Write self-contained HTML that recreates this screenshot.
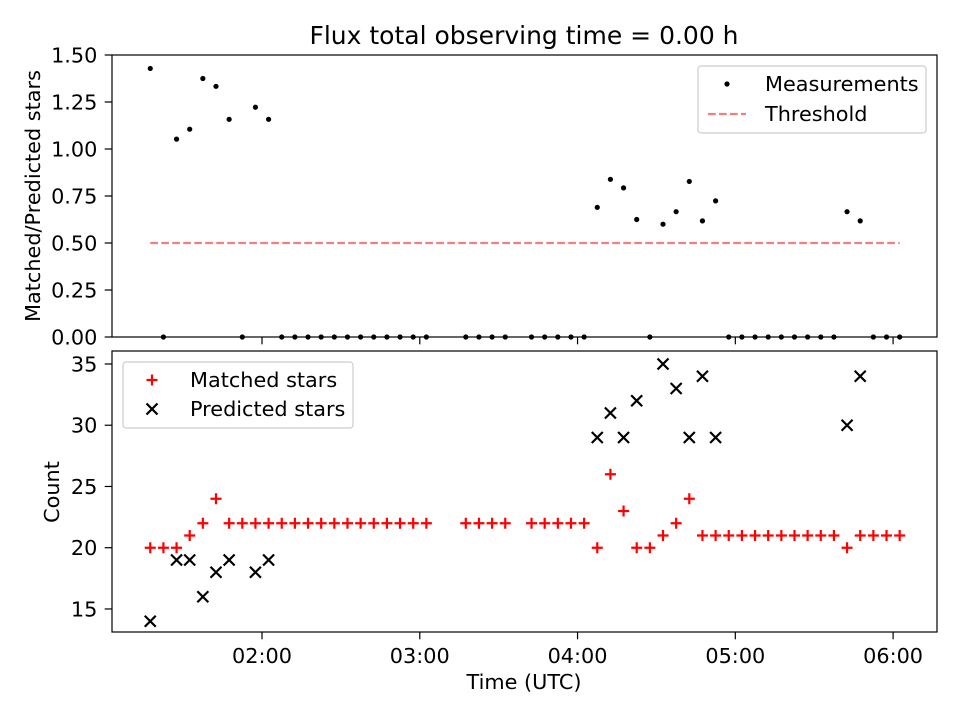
<!DOCTYPE html>
<html><head><meta charset="utf-8"><style>
body{margin:0;background:#fff}
svg{display:block;font-family:"DejaVu Sans","Liberation Sans",sans-serif}
</style></head><body>
<svg id="chart" width="960" height="720" viewBox="0 0 960 720">
<rect width="960" height="720" fill="#fff"/>
<text x="524" y="44" font-size="25" text-anchor="middle">Flux total observing time = 0.00 h</text>
<g id="topPanel"></g><g id="botPanel"></g>
<text transform="translate(40,196) rotate(-90)" font-size="20.8" text-anchor="middle">Matched/Predicted stars</text>
<text transform="translate(59,492) rotate(-90)" font-size="20.8" text-anchor="middle">Count</text>
<text x="524" y="689" font-size="20.8" text-anchor="middle">Time (UTC)</text>
</svg>
<script>
// index of 5-minute sample, start time 01:17.5
const startMinutes = 77.5;
const stepMinutes = 5;
const matchedIdx = [0,1,2,3,4,5,6,7,8,9,10,11,12,13,14,15,16,17,18,19,20,21,24,25,26,27,29,30,31,32,33,34,35,36,37,38,39,40,41,42,43,44,45,46,47,48,49,50,51,52,53,54,55,56,57];
const matchedVals = [20,20,20,21,22,24,22,22,22,22,22,22,22,22,22,22,22,22,22,22,22,22,22,22,22,22,22,22,22,22,22,20,26,23,20,20,21,22,24,21,21,21,21,21,21,21,21,21,21,21,20,21,21,21,21];
const predIdx = [0,2,3,4,5,6,8,9,34,35,36,37,39,40,41,42,43,53,54];
const predVals = [14,19,19,16,18,19,18,19,29,31,29,32,35,33,29,34,29,30,34];
const xTickLabels = ["02:00","03:00","04:00","05:00","06:00"];
const xTickMinutes = [120,180,240,300,360];
const topTicks = [0,0.25,0.5,0.75,1.0,1.25,1.5];
const botTicks = [15,20,25,30,35];
const threshold = 0.5;

const NS="http://www.w3.org/2000/svg";
const X0=112,X1=937, TM0=62.95, TM1=376.7;
const xs=m=>X0+(m-TM0)/(TM1-TM0)*(X1-X0);
const TY0=337,TY1=55; const ys1=v=>TY0-(v-0)/(1.5-0)*(TY0-TY1);
const BY0=632,BY1=351, BV0=13.12,BV1=36.06; const ys2=v=>BY0-(v-BV0)/(BV1-BV0)*(BY0-BY1);
const tm=i=>startMinutes+stepMinutes*i;
const FS=20.8, TL=7.3;
function mk(p,tag,a){const e=document.createElementNS(NS,tag);for(const k in a)e.setAttribute(k,a[k]);p.appendChild(e);return e;}
const topG=document.getElementById('topPanel'), botG=document.getElementById('botPanel');

const ratioX=[],ratioV=[];
matchedIdx.forEach((idx,k)=>{const p=predIdx.indexOf(idx);ratioX.push(idx);ratioV.push(p>=0?matchedVals[k]/predVals[p]:0);});

// top panel
topTicks.forEach(v=>{const y=ys1(v);
 mk(topG,'line',{x1:X0-TL,x2:X0,y1:y,y2:y,stroke:'#000','stroke-width':1.2});
 const t=mk(topG,'text',{x:X0-TL-7.3,y:y+7.5,'font-size':FS,'text-anchor':'end'});t.textContent=v.toFixed(2);
 
 });
xTickMinutes.forEach(m=>{const x=xs(m);mk(topG,'line',{x1:x,x2:x,y1:TY0,y2:TY0+TL,stroke:'#000','stroke-width':1.2});});
const thr=mk(topG,'line',{x1:xs(tm(0)),x2:xs(tm(57)),y1:ys1(threshold),y2:ys1(threshold),stroke:'#f08080','stroke-width':2.2,'stroke-dasharray':'7.7,3.3'});


ratioX.forEach((idx,k)=>{const c=mk(topG,'circle',{cx:xs(tm(idx)),cy:ys1(ratioV[k]),r:2.6,fill:'#000'});
 
 });
const fr1=mk(topG,'rect',{x:X0,y:TY1,width:X1-X0,height:TY0-TY1,fill:'none',stroke:'#000','stroke-width':1.2});


const lg1=mk(topG,'g',{});


mk(lg1,'rect',{x:698,y:66,width:228,height:67,rx:3,fill:'#fff',stroke:'#ccc','stroke-width':1.2});
mk(lg1,'circle',{cx:727,cy:84,r:2.6,fill:'#000'});
let t1=mk(lg1,'text',{x:765,y:91,'font-size':FS});t1.textContent='Measurements';


mk(lg1,'line',{x1:708,x2:746,y1:114,y2:114,stroke:'#f08080','stroke-width':2.2,'stroke-dasharray':'7.7,3.3'});
let t2=mk(lg1,'text',{x:765,y:121,'font-size':FS});t2.textContent='Threshold';



// bottom panel
botTicks.forEach(v=>{const y=ys2(v);
 mk(botG,'line',{x1:X0-TL,x2:X0,y1:y,y2:y,stroke:'#000','stroke-width':1.2});
 const t=mk(botG,'text',{x:X0-TL-7.3,y:y+7.5,'font-size':FS,'text-anchor':'end'});t.textContent=v;
 
 });
xTickMinutes.forEach((m,k)=>{const x=xs(m);mk(botG,'line',{x1:x,x2:x,y1:BY0,y2:BY0+TL,stroke:'#000','stroke-width':1.2});
 const t=mk(botG,'text',{x:x,y:663,'font-size':FS,'text-anchor':'middle'});t.textContent=xTickLabels[k];
 
 });
function plus(g,x,y){mk(g,'path',{d:`M${x-5.5},${y}H${x+5.5}M${x},${y-5.5}V${y+5.5}`,stroke:'#f00','stroke-width':2.2,fill:'none'});}
function cross(g,x,y){mk(g,'path',{d:`M${x-5.5},${y-5.5}L${x+5.5},${y+5.5}M${x-5.5},${y+5.5}L${x+5.5},${y-5.5}`,stroke:'#000','stroke-width':2.2,fill:'none'});}
matchedIdx.forEach((idx,k)=>{const g=mk(botG,'g',{});
 
 
 plus(g,xs(tm(idx)),ys2(matchedVals[k]));});
predIdx.forEach((idx,k)=>{const g=mk(botG,'g',{});
 
 
 cross(g,xs(tm(idx)),ys2(predVals[k]));});
const fr2=mk(botG,'rect',{x:X0,y:BY1,width:X1-X0,height:BY0-BY1,fill:'none',stroke:'#000','stroke-width':1.2});


const lg2=mk(botG,'g',{});


mk(lg2,'rect',{x:123,y:362,width:230,height:66,rx:3,fill:'#fff',stroke:'#ccc','stroke-width':1.2});
plus(lg2,152,380);
let t3=mk(lg2,'text',{x:190,y:387,'font-size':FS});t3.textContent='Matched stars';


cross(lg2,152,409);
let t4=mk(lg2,'text',{x:190,y:416,'font-size':FS});t4.textContent='Predicted stars';


</script>
</body></html>
